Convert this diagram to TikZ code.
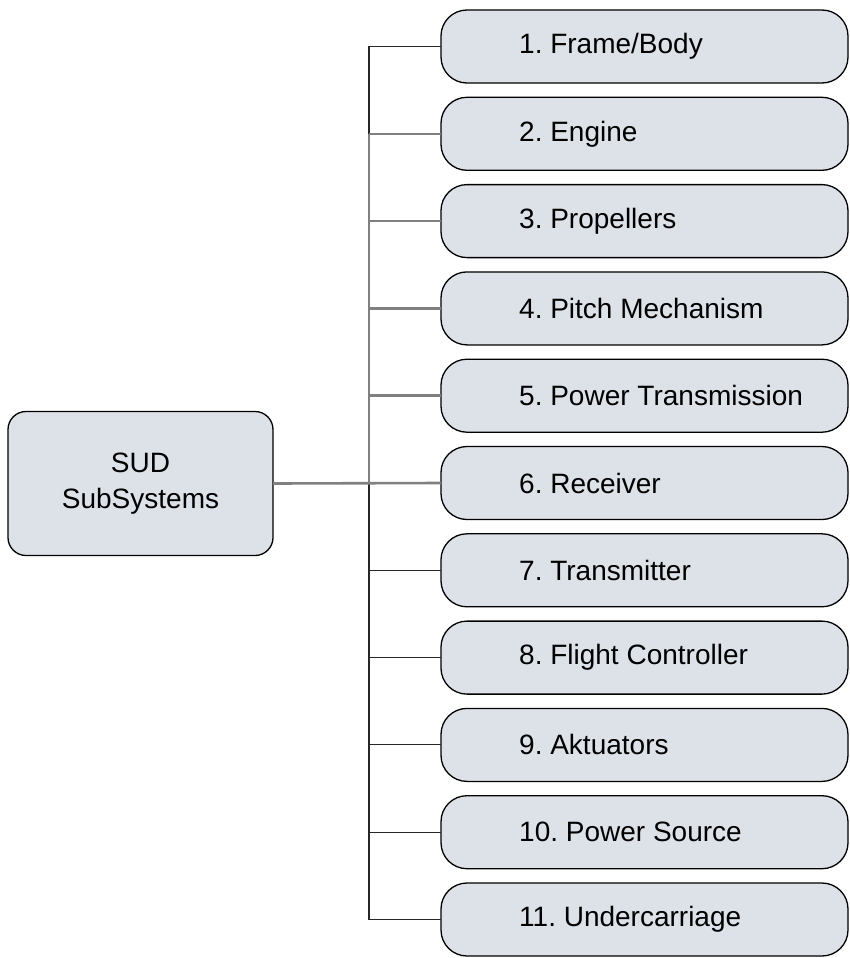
\documentclass[tikz,border=0pt]{standalone}
\usepackage{fontspec}
\setmainfont{Liberation Sans}
\usetikzlibrary{positioning}

\definecolor{boxfill}{RGB}{221,225,232}
\definecolor{busgray}{RGB}{128,128,128}

\tikzset{
  rootbox/.style={draw, line width=1.3pt, fill=boxfill, rounded corners=18pt,
    minimum width=265pt, minimum height=144pt, align=center, outer sep=0pt,
    font=\fontsize{28}{36}\selectfont},
  subbox/.style={draw, line width=1.3pt, fill=boxfill, rounded corners=26pt,
    minimum width=407pt, minimum height=73pt, inner sep=0pt, outer sep=0pt},
  subtext/.style={inner sep=0pt, anchor=west, font=\fontsize{28}{34}\selectfont},
  thinline/.style={line width=1.1pt, black!85},
  grayline/.style={line width=2.6pt, busgray}
}

\begin{document}
\frenchspacing
\begin{tikzpicture}[x=1pt, y=1pt]
\useasboundingbox (0,0) rectangle (849,-958);

\node[rootbox] (sud) at (140.5,-483.5) {SUD\\SubSystems};

\node[subbox] (sub1) at (644.5,-46.5) {};
\node[subbox, below=14.3pt of sub1] (sub2) {};
\node[subbox, below=14.3pt of sub2] (sub3) {};
\node[subbox, below=14.3pt of sub3] (sub4) {};
\node[subbox, below=14.3pt of sub4] (sub5) {};
\node[subbox, below=14.3pt of sub5] (sub6) {};
\node[subbox, below=14.3pt of sub6] (sub7) {};
\node[subbox, below=14.3pt of sub7] (sub8) {};
\node[subbox, below=14.3pt of sub8] (sub9) {};
\node[subbox, below=14.3pt of sub9] (sub10) {};
\node[subbox, below=14.3pt of sub10] (sub11) {};

\node[subtext, right=78pt of sub1.west] (txt1) {1. Frame/Body};
\node[subtext, right=78pt of sub2.west] (txt2) {2. Engine};
\node[subtext, right=78pt of sub3.west] (txt3) {3. Propellers};
\node[subtext, right=78pt of sub4.west] (txt4) {4. Pitch Mechanism};
\node[subtext, right=78pt of sub5.west] (txt5) {5. Power Transmission};
\node[subtext, right=78pt of sub6.west] (txt6) {6. Receiver};
\node[subtext, right=78pt of sub7.west] (txt7) {7. Transmitter};
\node[subtext, right=78pt of sub8.west] (txt8) {8. Flight Controller};
\node[subtext, right=78pt of sub9.west] (txt9) {9. Aktuators};
\node[subtext, right=78pt of sub10.west] (txt10) {10. Power Source};
\node[subtext, right=78pt of sub11.west] (txt11) {11. Undercarriage};

% vertical bus
\coordinate (bus) at (369,0);

% thin branches
\draw[thinline] (sub1.west) -| (sub2.west -| bus);
\draw[thinline] (sub6.west -| bus) |- (sub11.west);
\draw[thinline] (sub7.west -| bus) -- (sub7.west);
\draw[thinline] (sub8.west -| bus) -- (sub8.west);
\draw[thinline] (sub9.west -| bus) -- (sub9.west);
\draw[thinline] (sub10.west -| bus) -- (sub10.west);

% gray branches
\draw[grayline] (sud.east) -- (sub6.west);
\draw[grayline] (sub2.west -| bus) -- (sub6.west -| bus);
\draw[grayline] (sub2.west -| bus) -- (sub2.west);
\draw[grayline] (sub3.west -| bus) -- (sub3.west);
\draw[grayline] (sub4.west -| bus) -- (sub4.west);
\draw[grayline] (sub5.west -| bus) -- (sub5.west);
\end{tikzpicture}
\end{document}
